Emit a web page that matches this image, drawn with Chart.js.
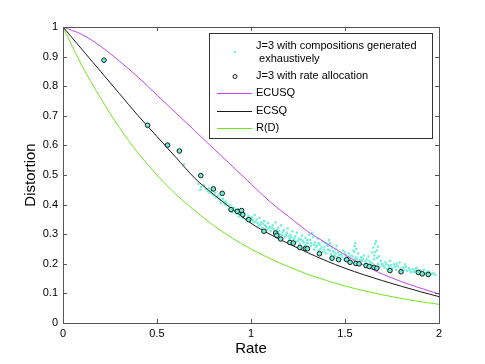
<!DOCTYPE html>
<html>
<head>
<meta charset="utf-8">
<script src="https://cdn.jsdelivr.net/npm/chart.js@4.4.1/dist/chart.umd.min.js"></script>
<style>
  html, body { margin: 0; padding: 0; background: #fff; }
</style>
</head>
<body>
<canvas id="rdChart" width="485" height="364"></canvas>
<script>
const FONT = '"Liberation Sans", Arial, Helvetica, sans-serif';

// rate grid for the three curves
const curveRate = [0, 0.1, 0.2, 0.3, 0.4, 0.5, 0.6, 0.7, 0.8, 0.9, 1.0,
  1.1, 1.2, 1.3, 1.4, 1.5, 1.6, 1.7, 1.8, 1.9, 2.0];
const ecusq = [1.0, 0.975, 0.935, 0.885, 0.83, 0.77, 0.71, 0.65, 0.59, 0.53, 0.47,
  0.41, 0.36, 0.31, 0.27, 0.23, 0.195, 0.165, 0.14, 0.118, 0.098];
const ecsq = [1.0, 0.925, 0.85, 0.775, 0.70, 0.63, 0.56, 0.49, 0.435, 0.385, 0.337,
  0.30, 0.268, 0.238, 0.21, 0.185, 0.163, 0.143, 0.124, 0.106, 0.089];
const rd = [1.0, 0.87, 0.76, 0.66, 0.574, 0.50, 0.435, 0.38, 0.33, 0.287, 0.25,
  0.218, 0.19, 0.165, 0.144, 0.125, 0.109, 0.095, 0.083, 0.072, 0.063];

// J=3 with rate allocation
const allocRate = [0.218, 0.45, 0.556, 0.619, 0.733, 0.80, 0.847, 0.894, 0.927, 0.95,
  0.956, 0.988, 1.069, 1.131, 1.137, 1.158, 1.207, 1.225, 1.26, 1.289, 1.30, 1.364,
  1.431, 1.466, 1.509, 1.527, 1.558, 1.575, 1.612, 1.629, 1.654, 1.669, 1.739, 1.798,
  1.89, 1.911, 1.943];
const allocDist = [0.888, 0.668, 0.601, 0.581, 0.498, 0.453, 0.438, 0.383, 0.377, 0.38,
  0.366, 0.349, 0.31, 0.304, 0.296, 0.284, 0.272, 0.27, 0.255, 0.251, 0.251, 0.234,
  0.219, 0.214, 0.214, 0.205, 0.201, 0.2, 0.194, 0.191, 0.188, 0.185, 0.177, 0.173,
  0.171, 0.166, 0.164];

// J=3 with compositions generated exhaustively  [rate, distortion]
const exhaustive = [
  [0.644, 0.536], [0.72, 0.47], [0.735, 0.46], [0.75, 0.465], [0.76, 0.452],
  [0.775, 0.455], [0.78, 0.44], [0.79, 0.447], [0.80, 0.432], [0.81, 0.44],
  [0.815, 0.425], [0.825, 0.43], [0.835, 0.415], [0.84, 0.405], [0.85, 0.42],
  [0.86, 0.40], [0.865, 0.41], [0.875, 0.395], [0.885, 0.385], [0.89, 0.40],
  [0.90, 0.375], [0.91, 0.39], [0.92, 0.37], [0.93, 0.385], [0.935, 0.36],
  [0.945, 0.375], [0.955, 0.355], [0.965, 0.37], [0.975, 0.35], [0.985, 0.362],
  [0.995, 0.345], [1.005, 0.357], [1.015, 0.34], [1.02, 0.365], [1.03, 0.35],
  [1.04, 0.33], [1.045, 0.355], [1.055, 0.34], [1.06, 0.322], [1.07, 0.345],
  [1.075, 0.33], [1.085, 0.315], [1.09, 0.338], [1.10, 0.325], [1.105, 0.31],
  [1.115, 0.33], [1.12, 0.318], [1.13, 0.34], [1.135, 0.305], [1.145, 0.322],
  [1.15, 0.31], [1.16, 0.33], [1.165, 0.298], [1.175, 0.315], [1.18, 0.29],
  [1.19, 0.305], [1.195, 0.32], [1.205, 0.285], [1.21, 0.298], [1.22, 0.31],
  [1.225, 0.28], [1.235, 0.292], [1.24, 0.275], [1.245, 0.305], [1.255, 0.285],
  [1.26, 0.268], [1.27, 0.295], [1.275, 0.278], [1.285, 0.262], [1.29, 0.288],
  [1.30, 0.27], [1.305, 0.255], [1.31, 0.298], [1.315, 0.28], [1.32, 0.26],
  [1.325, 0.305], [1.33, 0.29], [1.335, 0.248], [1.34, 0.272], [1.345, 0.258],
  [1.355, 0.285], [1.36, 0.245], [1.365, 0.265], [1.37, 0.25], [1.38, 0.275],
  [1.385, 0.24], [1.39, 0.258], [1.40, 0.235], [1.405, 0.265], [1.41, 0.248],
  [1.415, 0.28], [1.42, 0.27], [1.425, 0.232], [1.43, 0.255], [1.44, 0.24],
  [1.445, 0.228], [1.45, 0.25], [1.46, 0.222], [1.465, 0.238], [1.475, 0.218],
  [1.48, 0.232], [1.49, 0.245], [1.495, 0.215], [1.505, 0.228], [1.51, 0.21],
  [1.52, 0.235], [1.525, 0.218], [1.535, 0.208], [1.54, 0.225], [1.545, 0.245],
  [1.55, 0.26], [1.555, 0.27], [1.56, 0.25], [1.565, 0.215], [1.57, 0.235],
  [1.575, 0.205], [1.585, 0.222], [1.59, 0.21], [1.60, 0.228], [1.605, 0.2],
  [1.615, 0.215], [1.62, 0.198], [1.625, 0.225], [1.635, 0.205], [1.64, 0.195],
  [1.645, 0.238], [1.65, 0.255], [1.655, 0.215], [1.66, 0.268], [1.665, 0.276],
  [1.67, 0.245], [1.675, 0.2], [1.68, 0.225], [1.685, 0.19], [1.69, 0.21],
  [1.70, 0.198], [1.71, 0.188], [1.715, 0.205], [1.725, 0.182], [1.73, 0.195],
  [1.74, 0.21], [1.75, 0.185], [1.76, 0.198], [1.77, 0.18], [1.78, 0.192],
  [1.79, 0.205], [1.80, 0.178], [1.81, 0.188], [1.82, 0.198], [1.83, 0.176],
  [1.84, 0.185], [1.85, 0.172], [1.86, 0.182], [1.87, 0.175], [1.88, 0.186],
  [1.89, 0.168], [1.90, 0.178], [1.91, 0.172], [1.92, 0.18], [1.93, 0.168],
  [1.945, 0.174], [1.96, 0.166], [1.98, 0.163],
  [0.73, 0.45], [0.77, 0.445], [0.795, 0.435], [0.83, 0.42], [0.855, 0.41],
  [0.87, 0.405], [0.895, 0.39], [0.915, 0.38], [0.94, 0.37], [0.96, 0.362],
  [0.98, 0.355], [1.0, 0.352], [1.01, 0.348], [1.025, 0.342], [1.035, 0.338],
  [1.05, 0.332], [1.065, 0.335], [1.08, 0.325], [1.095, 0.32], [1.11, 0.322],
  [1.125, 0.312], [1.14, 0.315], [1.155, 0.30], [1.17, 0.308], [1.185, 0.298],
  [1.20, 0.292], [1.215, 0.29], [1.23, 0.285], [1.25, 0.278], [1.265, 0.282],
  [1.28, 0.272], [1.295, 0.265], [1.30, 0.28], [1.32, 0.27], [1.335, 0.265],
  [1.35, 0.262], [1.36, 0.27], [1.375, 0.255], [1.39, 0.248], [1.395, 0.27],
  [1.41, 0.26], [1.42, 0.245], [1.435, 0.242], [1.45, 0.235], [1.455, 0.26],
  [1.47, 0.23], [1.485, 0.225], [1.50, 0.238], [1.515, 0.222], [1.53, 0.228],
  [1.55, 0.215], [1.55, 0.24], [1.56, 0.222], [1.58, 0.212], [1.595, 0.218],
  [1.61, 0.208], [1.63, 0.21], [1.645, 0.202], [1.655, 0.228], [1.66, 0.24],
  [1.67, 0.22], [1.675, 0.258], [1.695, 0.20], [1.705, 0.192], [1.72, 0.198],
  [1.735, 0.188], [1.745, 0.195], [1.765, 0.19], [1.775, 0.20], [1.795, 0.185],
  [1.815, 0.18], [1.825, 0.19], [1.845, 0.178], [1.865, 0.172], [1.875, 0.18],
  [1.895, 0.175], [1.915, 0.168], [1.935, 0.172], [1.95, 0.168], [1.97, 0.168]
];

const xTicks = [0, 0.5, 1, 1.5, 2];
const yTicks = [0, 0.1, 0.2, 0.3, 0.4, 0.5, 0.6, 0.7, 0.8, 0.9, 1];

const CYAN = '#6ff0d6';
const MAGENTA = '#c444f4';
const BLACK = '#1a1a1a';
const GREEN = '#6ee61e';

function curve(vals) {
  return curveRate.map((r, i) => ({ x: r, y: vals[i] }));
}

// matlab style box with inward ticks
const axesBox = {
  id: 'axesBox',
  afterDatasetsDraw(chart) {
    const { ctx, chartArea: a, scales } = chart;
    ctx.save();
    ctx.strokeStyle = '#555';
    ctx.lineWidth = 1;
    ctx.beginPath();
    xTicks.forEach(v => {
      const px = Math.round(scales.x.getPixelForValue(v)) + 0.5;
      ctx.moveTo(px, a.bottom); ctx.lineTo(px, a.bottom - 4);
      ctx.moveTo(px, a.top); ctx.lineTo(px, a.top + 4);
    });
    yTicks.forEach(v => {
      const py = Math.round(scales.y.getPixelForValue(v)) + 0.5;
      ctx.moveTo(a.left, py); ctx.lineTo(a.left + 4, py);
      ctx.moveTo(a.right, py); ctx.lineTo(a.right - 4, py);
    });
    ctx.stroke();
    ctx.strokeRect(Math.round(a.left) + 0.5, Math.round(a.top) + 0.5,
      Math.round(a.right - a.left), Math.round(a.bottom - a.top));
    ctx.restore();
  }
};

const legendBox = {
  id: 'legendBox',
  afterDraw(chart) {
    const ctx = chart.ctx;
    ctx.save();
    ctx.fillStyle = '#fff';
    ctx.fillRect(209.5, 33.5, 223, 105);
    ctx.strokeStyle = '#333';
    ctx.lineWidth = 1;
    ctx.strokeRect(209.5, 33.5, 223, 105);

    ctx.font = '11px ' + FONT;
    ctx.fillStyle = '#000';
    ctx.textBaseline = 'middle';
    ctx.fillText('J=3 with compositions generated', 256, 46);
    ctx.fillText(' exhaustively', 256, 59);
    ctx.fillText('J=3 with rate allocation', 256, 76);
    ctx.fillText('ECUSQ', 256, 93);
    ctx.fillText('ECSQ', 256, 111);
    ctx.fillText('R(D)', 256, 128);

    ctx.fillStyle = CYAN;
    ctx.fillRect(234, 51, 2, 2);
    ctx.beginPath();
    ctx.arc(235, 76.5, 2, 0, Math.PI * 2);
    ctx.strokeStyle = BLACK;
    ctx.stroke();

    [[MAGENTA, 93.5], [BLACK, 111.5], [GREEN, 128.5]].forEach(([c, y]) => {
      ctx.strokeStyle = c;
      ctx.beginPath();
      ctx.moveTo(217, y); ctx.lineTo(252, y);
      ctx.stroke();
    });
    ctx.restore();
  }
};

new Chart(document.getElementById('rdChart'), {
  type: 'scatter',
  data: {
    datasets: [
      {
        label: 'J=3 with rate allocation',
        data: allocRate.map((r, i) => ({ x: r, y: allocDist[i] })),
        pointRadius: 2.3,
        pointBorderWidth: 1,
        pointBorderColor: BLACK,
        pointBackgroundColor: CYAN,
        order: 0,
      },
      {
        label: 'ECUSQ',
        data: curve(ecusq),
        showLine: true,
        borderColor: MAGENTA,
        borderWidth: 1,
        pointRadius: 0,
        cubicInterpolationMode: 'monotone',
        order: 1,
      },
      {
        label: 'ECSQ',
        data: curve(ecsq),
        showLine: true,
        borderColor: BLACK,
        borderWidth: 1,
        pointRadius: 0,
        cubicInterpolationMode: 'monotone',
        order: 1,
      },
      {
        label: 'R(D)',
        data: curve(rd),
        showLine: true,
        borderColor: GREEN,
        borderWidth: 1,
        pointRadius: 0,
        cubicInterpolationMode: 'monotone',
        order: 1,
      },
      {
        label: 'J=3 with compositions generated exhaustively',
        data: exhaustive.map(p => ({ x: p[0], y: p[1] })),
        pointStyle: 'rect',
        pointRadius: 1.6,
        pointBorderWidth: 0,
        pointBackgroundColor: CYAN,
        order: 2,
      },
    ],
  },
  options: {
    responsive: false,
    animation: false,
    layout: { padding: { left: 0, top: 27, right: 46, bottom: 0 } },
    plugins: {
      legend: { display: false },
      tooltip: { enabled: false },
    },
    scales: {
      x: {
        type: 'linear',
        min: 0,
        max: 2,
        afterFit: s => { s.height = 41; },
        afterBuildTicks: s => { s.ticks = xTicks.map(v => ({ value: v })); },
        grid: { display: false, drawTicks: false },
        border: { display: false },
        ticks: {
          color: '#000', padding: 4, font: { family: FONT, size: 11 },
          callback: v => String(v),
        },
        title: {
          display: true, text: 'Rate', color: '#000',
          font: { family: FONT, size: 15 }, padding: { top: 0, bottom: 6 },
        },
      },
      y: {
        type: 'linear',
        min: 0,
        max: 1,
        afterFit: s => { s.width = 63; },
        afterBuildTicks: s => { s.ticks = yTicks.map(v => ({ value: v })); },
        grid: { display: false, drawTicks: false },
        border: { display: false },
        ticks: {
          color: '#000', padding: 5, font: { family: FONT, size: 11 },
          callback: v => String(v),
        },
        title: {
          display: true, text: 'Distortion', color: '#000',
          font: { family: FONT, size: 15 }, padding: { top: 22, bottom: 0 },
        },
      },
    },
  },
  plugins: [axesBox, legendBox],
});
</script>
</body>
</html>
